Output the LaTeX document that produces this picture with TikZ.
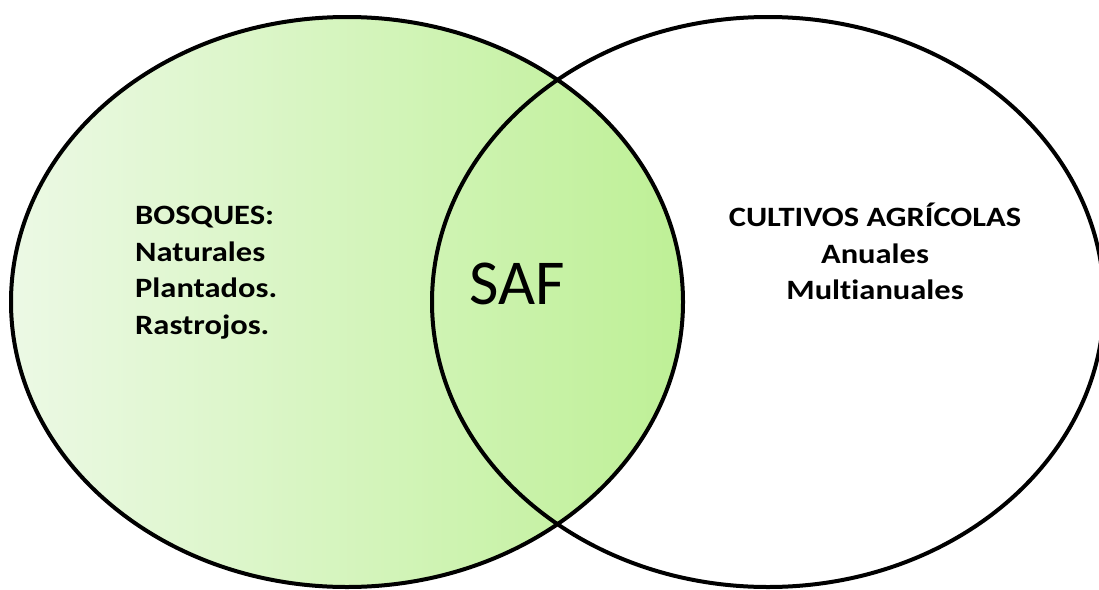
\documentclass[tikz,border=0pt]{standalone}
\usepackage{fontspec}
\setmainfont{Carlito}[Ligatures=NoCommon]
\usepackage{graphicx}
\usepackage{tikz}
\usetikzlibrary{shapes.geometric, positioning}

\definecolor{paleverde}{RGB}{236,249,229}
\definecolor{verde}{RGB}{190,240,150}

% wider lettering, as in the slide
\newcommand{\ancho}[1]{\scalebox{1.16}[1]{#1}}

\begin{document}
\begin{tikzpicture}[
    x=1pt, y=-1pt,
    conjunto/.style={ellipse, draw=black, line width=4pt, minimum width=672pt, minimum height=570pt, inner sep=0pt},
    lista/.style={font=\bfseries\fontsize{28}{36.6}\selectfont, align=left, inner sep=0pt},
    titulo/.style={font=\fontsize{64}{64}\selectfont, inner sep=0pt}
]

% Frame
\useasboundingbox (0,0) rectangle (1099,589);

% Sets
\node[conjunto, left color=paleverde, right color=verde] (bosques) at (347,302) {};
\node[conjunto] (cultivos) at (768,302) {};

% Labels
\node[lista, anchor=north west] (listab) at (135,206) {\ancho{BOSQUES:}\\\ancho{Naturales}\\\ancho{Plantados.}\\\ancho{Rastrojos.}};
\node[lista, align=center, anchor=north] (listac) at (875,203) {\ancho{CULTIVOS AGRÍCOLAS}\\\ancho{Anuales}\\\ancho{Multianuales}};
\node[titulo] (saf) at (517,284) {SAF};

\end{tikzpicture}
\end{document}
